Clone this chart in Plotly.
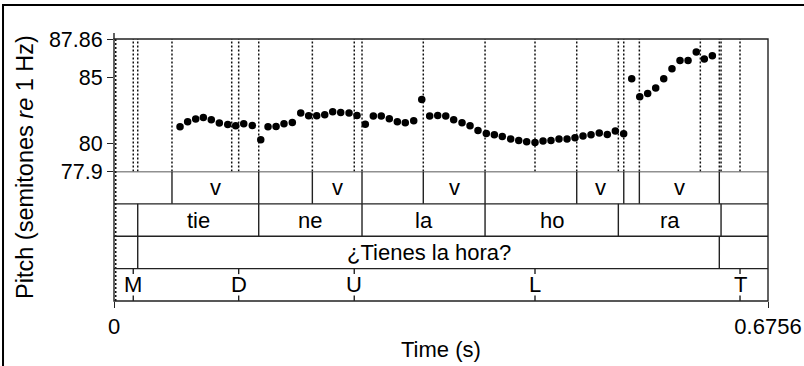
import plotly.graph_objects as go

# Pitch contour (time in s, pitch in semitones re 1 Hz)
pitch_time = [0.0682, 0.0761, 0.0844, 0.0923, 0.1005, 0.1088, 0.1175, 0.1257, 0.1340, 0.1429,
              0.1516, 0.1591, 0.1674, 0.1756, 0.1842, 0.1929, 0.2011, 0.2094, 0.2177, 0.2259,
              0.2342, 0.2428, 0.2510, 0.2596, 0.2679, 0.2761, 0.2844, 0.2927, 0.3009, 0.3096,
              0.3179, 0.3261, 0.3344, 0.3427, 0.3509, 0.3595, 0.3678, 0.3760, 0.3846, 0.3929,
              0.4011, 0.4098, 0.4181, 0.4263, 0.4349, 0.4432, 0.4514, 0.4597, 0.4680, 0.4762,
              0.4845, 0.4928, 0.5013, 0.5096, 0.5179, 0.5265, 0.5348, 0.5431, 0.5513, 0.5596,
              0.5679, 0.5764, 0.5847, 0.5930, 0.6015, 0.6098, 0.6181]
pitch_st = [81.26, 81.64, 81.84, 81.96, 81.79, 81.54, 81.43, 81.34, 81.49, 81.36,
            80.28, 81.26, 81.28, 81.49, 81.58, 82.29, 82.09, 82.09, 82.16, 82.39,
            82.34, 82.29, 82.11, 81.46, 82.07, 82.07, 81.86, 81.64, 81.56, 81.71,
            83.32, 82.07, 82.11, 82.07, 81.79, 81.56, 81.34, 80.98, 80.76, 80.66,
            80.53, 80.34, 80.23, 80.13, 80.08, 80.19, 80.23, 80.34, 80.34, 80.43,
            80.56, 80.66, 80.79, 80.68, 80.94, 80.73, 84.87, 83.52, 83.77, 84.17,
            84.87, 85.63, 86.25, 86.25, 86.88, 86.36, 86.60]

t_end = 0.6756
pitch_min, pitch_max = 77.9, 87.86
pitch_ticks = [77.9, 80, 85, 87.86]
pitch_tick_text = ["77.9", "80", "85", "87.86"]
time_ticks = [0, 0.6756]
time_tick_text = ["0", "0.6756"]

# Interval tiers: boundaries and interval labels (one more label than boundaries)
vowel_bounds = [0.0599, 0.1495, 0.2049, 0.2562, 0.3195, 0.3833, 0.4780, 0.5266, 0.5427, 0.6253]
vowel_labels = ["", "v", "", "v", "", "v", "", "v", "", "v", ""]
syll_bounds = [0.0245, 0.1495, 0.2562, 0.3833, 0.5210, 0.6271]
syll_labels = ["", "tie", "ne", "la", "ho", "ra", ""]
phrase_bounds = [0.0245, 0.6253]
phrase_labels = ["", "¿Tienes la hora?", ""]

# Point tier
tone_times = [0.0199, 0.1288, 0.2482, 0.4349, 0.6467]
tone_labels = ["M", "D", "U", "L", "T"]

# Further marks shown only as dotted guides
extra_marks = [0.1216, 0.6057]
edge_mark = 0.0018

FONT = "Liberation Sans, Arial, sans-serif"
LINE = "#222222"
DOT = dict(color="#111111", width=1.5, dash="2px,2px")

fig = go.Figure()
fig.add_trace(go.Scatter(
    x=pitch_time, y=pitch_st, mode="markers",
    marker=dict(color="black", size=7.5),
    xaxis="x", yaxis="y", showlegend=False, hoverinfo="skip"))

shapes = []
annotations = []

# dotted guides across the pitch panel
guides = sorted(set(vowel_bounds + syll_bounds + phrase_bounds + tone_times + extra_marks))
for t in guides:
    shapes.append(dict(type="line", xref="x", yref="y", x0=t, x1=t, y0=pitch_min, y1=pitch_max,
                       line=DOT, layer="below"))
shapes.append(dict(type="line", xref="x", yref="paper", x0=edge_mark, x1=edge_mark, y0=0, y1=1,
                   line=DOT, layer="below"))

# tiers: tier index 3 is top (vowels), 0 is bottom (points)
tiers = [(3, vowel_bounds, vowel_labels), (2, syll_bounds, syll_labels), (1, phrase_bounds, phrase_labels)]
for level, bounds, labels in tiers:
    for b in bounds:
        shapes.append(dict(type="line", xref="x", yref="y2", x0=b, x1=b, y0=level, y1=level + 1,
                           line=dict(color=LINE, width=1.4)))
    edges = [0] + bounds + [t_end]
    for i, lab in enumerate(labels):
        if lab:
            annotations.append(dict(x=(edges[i] + edges[i + 1]) / 2, y=level + 0.5, xref="x", yref="y2",
                                    text=lab, showarrow=False,
                                    font=dict(family=FONT, size=22, color="black")))

for t, lab in zip(tone_times, tone_labels):
    shapes.append(dict(type="line", xref="x", yref="y2", x0=t, x1=t, y0=0, y1=0.17,
                       line=dict(color=LINE, width=1.4)))
    shapes.append(dict(type="line", xref="x", yref="y2", x0=t, x1=t, y0=0.83, y1=1,
                       line=dict(color=LINE, width=1.4)))
    annotations.append(dict(x=t, y=0.5, xref="x", yref="y2", text=lab, showarrow=False,
                            font=dict(family=FONT, size=22, color="black")))

# tier separators
for level in [1, 2, 3, 4]:
    shapes.append(dict(type="line", xref="paper", yref="y2", x0=0, x1=1, y0=level, y1=level,
                       line=dict(color=LINE, width=1.4)))

# outer box of the drawing
shapes.append(dict(type="rect", xref="paper", yref="paper", x0=0, x1=1, y0=0, y1=1,
                   line=dict(color=LINE, width=1.4)))
shapes.append(dict(type="line", xref="paper", yref="paper", x0=0, x1=0, y0=1, y1=1.023,
                   line=dict(color=LINE, width=1.4)))
# page frame
shapes.append(dict(type="rect", xref="paper", yref="paper", x0=-0.1697, x1=1.2, y0=-0.4, y1=1.1298,
                   line=dict(color="black", width=2)))

annotations.append(dict(x=-0.136, y=0.512, xref="paper", yref="paper",
                        text="Pitch (semitones <i>re</i> 1 Hz)", textangle=-90, showarrow=False,
                        xanchor="center", yanchor="middle",
                        font=dict(family=FONT, size=23.5, color="black")))
annotations.append(dict(x=0.5, y=-0.187, xref="paper", yref="paper", text="Time (s)",
                        showarrow=False, xanchor="center", yanchor="middle",
                        font=dict(family=FONT, size=22, color="black")))

fig.update_layout(
    width=804, height=366,
    margin=dict(l=114, r=36, t=39, b=65, autoexpand=False),
    paper_bgcolor="white", plot_bgcolor="white",
    xaxis=dict(range=[0, t_end], anchor="y2", showgrid=False, zeroline=False,
               tickvals=time_ticks, ticktext=time_tick_text, ticks="outside", ticklen=6,
               tickwidth=1.4, tickcolor=LINE, showline=False, automargin=False,
               tickfont=dict(family=FONT, size=22, color="black")),
    yaxis=dict(range=[pitch_min, pitch_max], domain=[0.4943, 1], anchor="x", showgrid=False,
               zeroline=False, tickvals=pitch_ticks, ticktext=pitch_tick_text, ticks="outside",
               ticklen=6, tickwidth=1.4, tickcolor=LINE, automargin=False,
               tickfont=dict(family=FONT, size=21.5, color="black")),
    yaxis2=dict(range=[0, 4], domain=[0, 0.4943], anchor="x", showgrid=False, zeroline=False,
                showticklabels=False, ticks="", automargin=False),
    shapes=shapes, annotations=annotations,
)

fig.write_html("out.html")
